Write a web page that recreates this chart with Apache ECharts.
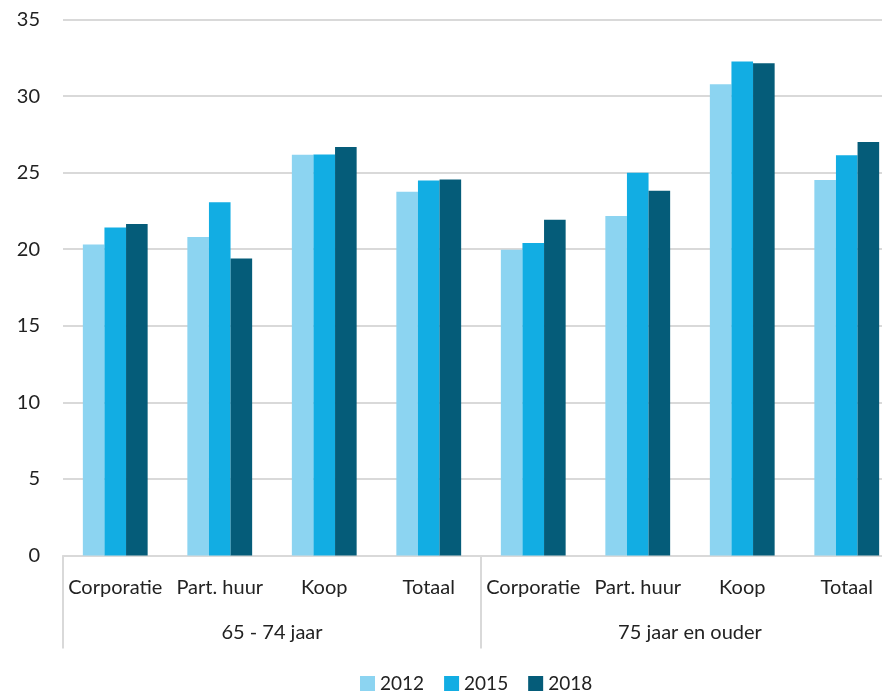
<!DOCTYPE html>
<html>
<head>
<meta charset="utf-8">
<script src="https://cdn.jsdelivr.net/npm/echarts@6/dist/echarts.min.js"></script>
<style>
html,body{margin:0;padding:0;background:#fff;}
#c{width:882px;height:693px;}
</style>
</head>
<body>
<div id="c"></div>
<script>
var categories = ['Corporatie','Part. huur','Koop','Totaal','Corporatie','Part. huur','Koop','Totaal'];
var groups = ['65 - 74 jaar','75 jaar en ouder'];
var seriesNames = ['2012','2015','2018'];
var values2012 = [20.3, 20.8, 26.17, 23.76, 19.97, 22.17, 30.78, 24.52];
var values2015 = [21.41, 23.06, 26.19, 24.48, 20.4, 25.0, 32.26, 26.13];
var values2018 = [21.65, 19.39, 26.67, 24.56, 21.93, 23.82, 32.15, 27.0];
var colors = ['#8CD4F1', '#12ADE3', '#055C79'];

var FONT = 'Lato';
var chart = echarts.init(document.getElementById('c'), null, {renderer:'canvas'});
var allValues = [values2012, values2015, values2018];
chart.setOption({
  animation: false,
  textStyle: {fontFamily: FONT},
  grid: {left: 63, top: 19.5, right: -17, bottom: 137.5, containLabel: false, outerBoundsMode: 'none'},
  legend: {
    data: seriesNames,
    left: 355, top: 669,
    itemWidth: 15, itemHeight: 15, itemGap: 20,
    icon: 'rect',
    textStyle: {fontFamily: FONT, fontSize: 19, color: '#222'}
  },
  xAxis: [
    {
      type: 'category', data: categories, position: 'bottom',
      axisLine: {show: true, lineStyle: {color: '#d9d9d9', width: 2}},
      axisTick: {show: false},
      axisLabel: {interval: 0, margin: 22, fontSize: 20, color: '#222', fontFamily: FONT}
    },
    {
      type: 'category', data: groups, position: 'bottom', gridIndex: 0,
      axisLine: {show: false},
      axisTick: {show: true, length: 93, lineStyle: {color: '#d9d9d9', width: 2}},
      axisLabel: {interval: 0, margin: 67, fontSize: 20, color: '#222', fontFamily: FONT}
    }
  ],
  yAxis: {
    type: 'value', min: 0, max: 35, interval: 5,
    axisLine: {show: false}, axisTick: {show: false},
    splitLine: {lineStyle: {color: '#d9d9d9', width: 2}},
    axisLabel: {margin: 23, fontSize: 20, color: '#222', fontFamily: FONT}
  },
  series: seriesNames.map(function(n, i){
    return {
      name: n, type: 'bar', xAxisIndex: 0, data: allValues[i],
      barGap: '0%', barCategoryGap: '38%',
      itemStyle: {color: colors[i]}
    };
  })
});
</script>
</body>
</html>
